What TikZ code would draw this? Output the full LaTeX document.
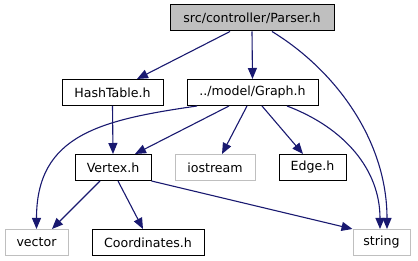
\documentclass[tikz,border=0pt]{standalone}
\usepackage{fontspec}
\setmainfont{DejaVu Sans}
\usepackage{tikz}
\usetikzlibrary{arrows.meta}

\definecolor{depblue}{HTML}{191970}
\definecolor{sysgray}{HTML}{BFBFBF}

\tikzset{
  filebox/.style={rectangle, draw=black, fill=white, line width=1pt, inner sep=0pt, minimum height=\boxh, font=\fontsize{12.6}{14}\selectfont},
  sysbox/.style={filebox, draw=sysgray},
  topbox/.style={filebox, fill=sysgray},
}

\begin{document}
\begin{tikzpicture}[x=1pt, y=-1pt]

\newcommand\boxh{26pt}

\useasboundingbox (0,0) rectangle (418,261);

\node at (252,18) [topbox, minimum width=164pt] (parser) {src/controller/Parser.h};

\node at (112.5,92.5) [filebox, minimum width=101pt] (hashtable) {HashTable.h};
\node at (252.5,92.5) [filebox, minimum width=131pt] (graph) {../model/Graph.h};

\node at (113,167.5) [filebox, minimum width=76pt] (vertex) {Vertex.h};
\node at (215,167.5) [sysbox, minimum width=80pt] (iostream) {iostream};
\node at (312.5,167.5) [filebox, minimum width=67pt] (edge) {Edge.h};

\node at (36.5,242.5) [sysbox, minimum width=63pt] (vector) {vector};
\node at (148,242.5) [filebox, minimum width=112pt] (coords) {Coordinates.h};
\node at (381.5,242.5) [sysbox, minimum width=57pt] (string) {string};

\begin{scope}[>={Triangle[length=11pt, width=9pt]}, depblue, line width=1.1pt]
	% includes of Parser.h
	\draw [->] ([xshift=-22pt]parser.south) -- ([xshift=24.5pt]hashtable.north);
	\draw [->] (parser.south) -- (graph.north);
	\draw [->] ([xshift=20pt]parser.south) .. controls (335,70) and (387,140) .. ([xshift=5.5pt]string.north);

	\draw [->] (hashtable.south) -- (vertex.north);

	% includes of Graph.h
	\draw [->] ([xshift=-23.5pt]graph.south) -- ([xshift=22pt]vertex.north);
	\draw [->] ([xshift=-55.5pt]graph.south) .. controls (100,120) and (36.5,135) .. (vector.north);
	\draw [->] ([xshift=-5.5pt]graph.south) -- ([xshift=7pt]iostream.north);
	\draw [->] ([xshift=9.5pt]graph.south) -- ([xshift=-9.5pt]edge.north);
	\draw [->] ([xshift=34.5pt]graph.south) .. controls (345,128) and (380,170) .. ([xshift=-1.5pt]string.north);

	% includes of Vertex.h
	\draw [->] ([xshift=-13pt]vertex.south) -- ([xshift=15.5pt]vector.north);
	\draw [->] ([xshift=5pt]vertex.south) -- ([xshift=-5pt]coords.north);
	\draw [->] (vertex.south east) -- (string.north west);
\end{scope}

\end{tikzpicture}
\end{document}
